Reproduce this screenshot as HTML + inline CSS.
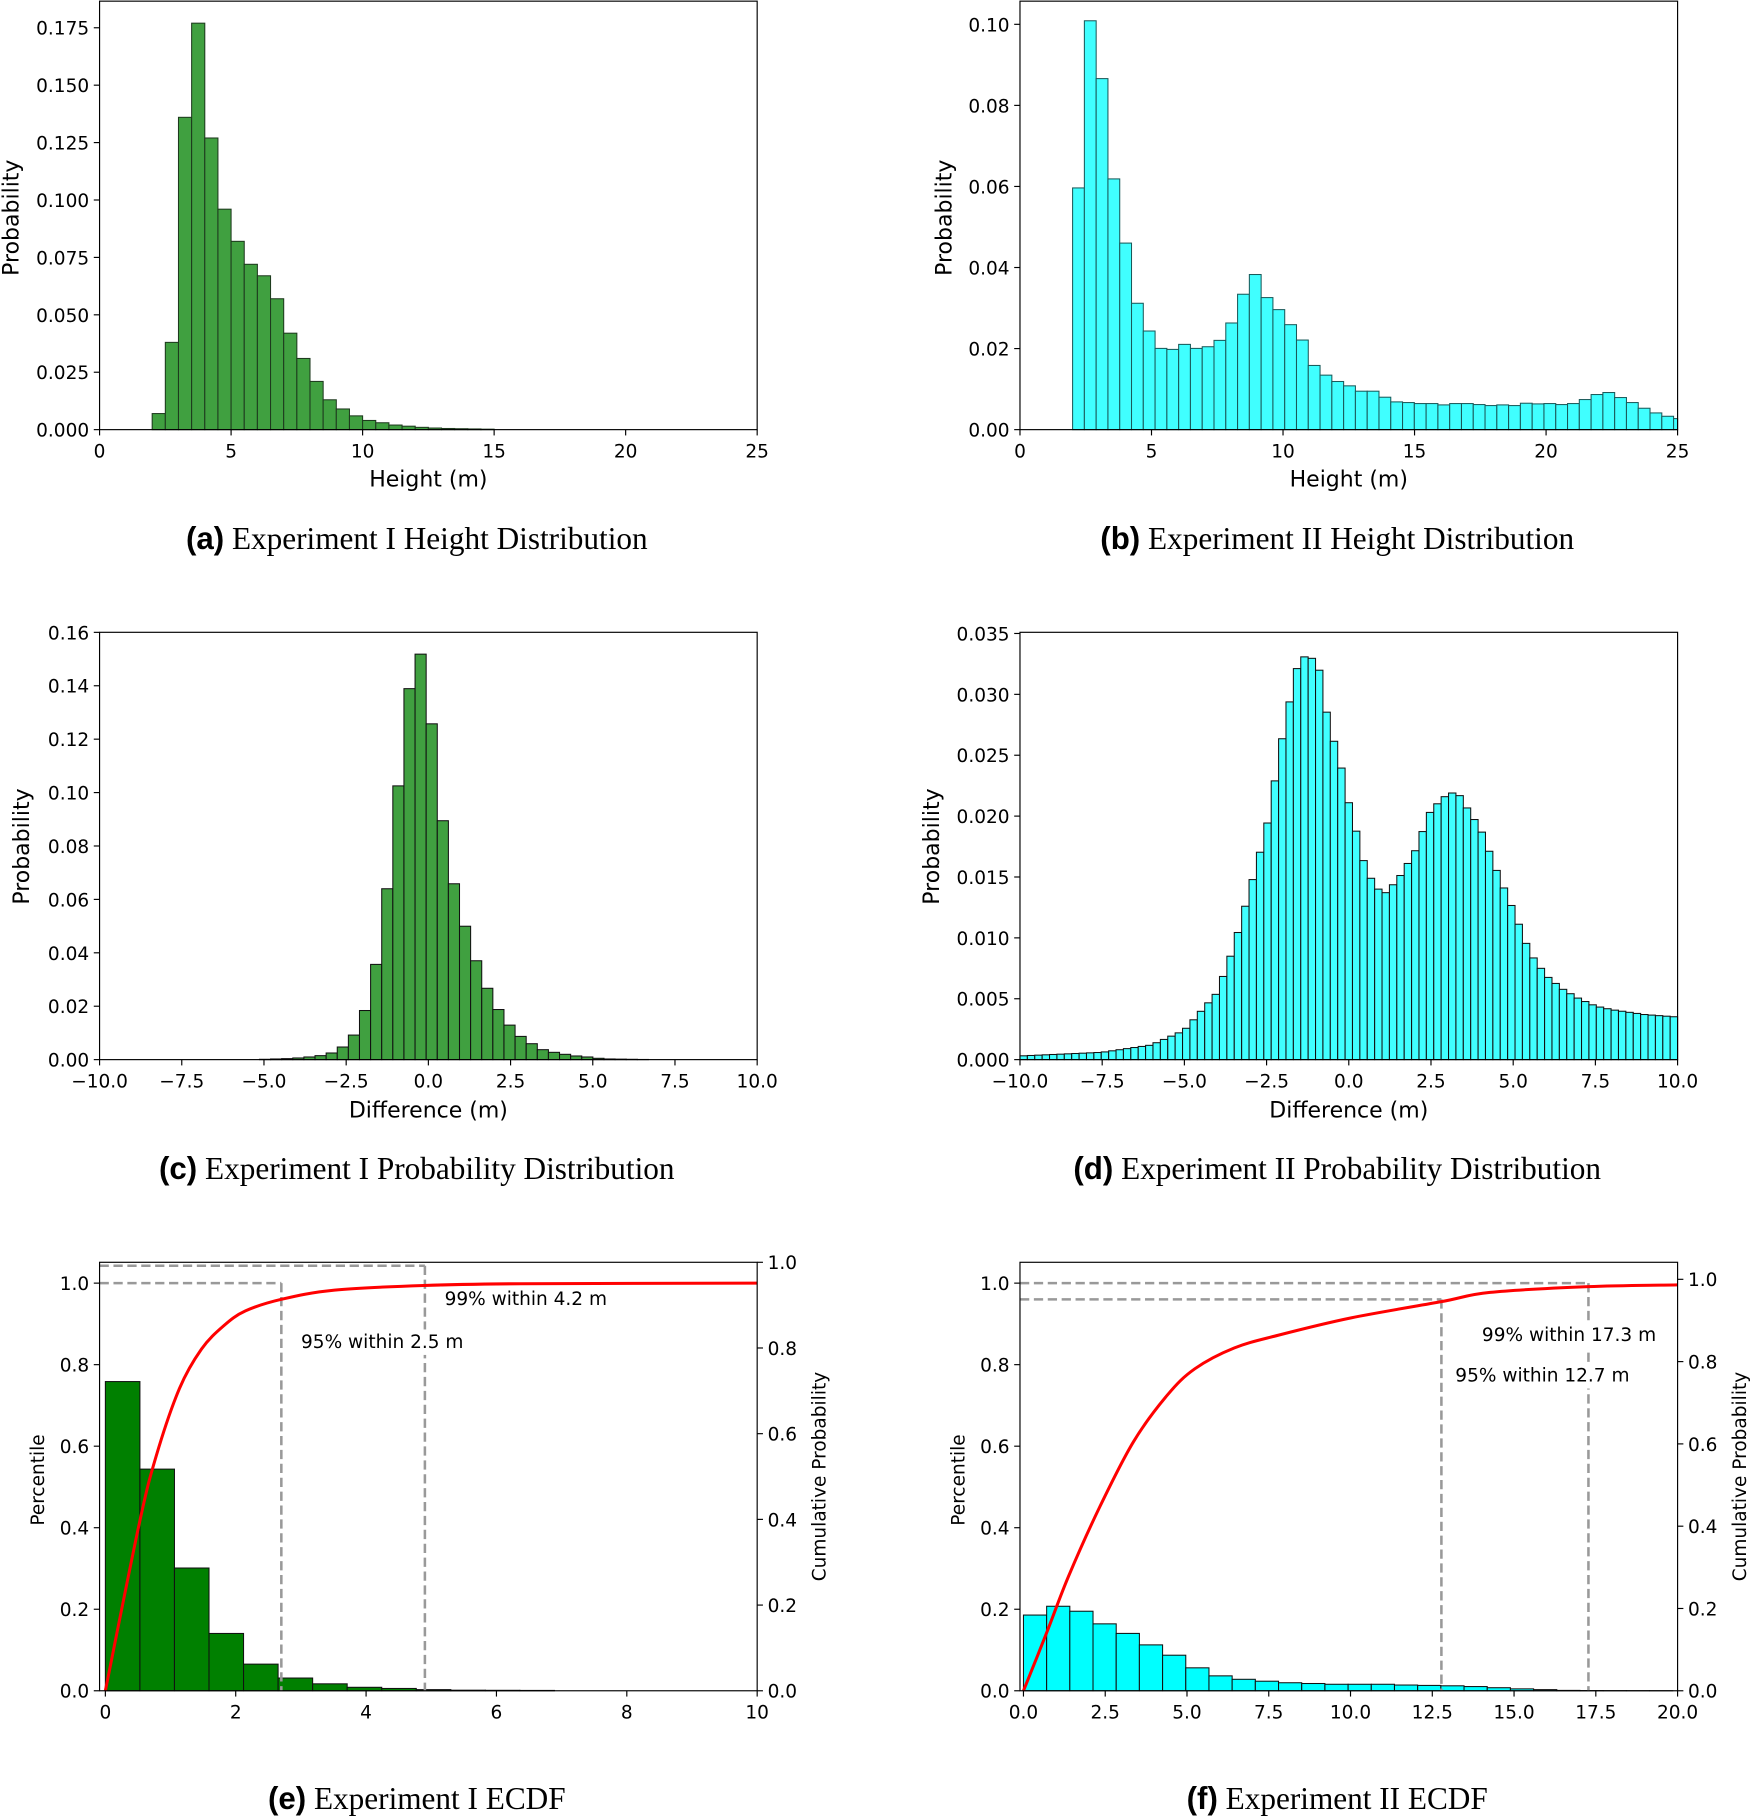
<!DOCTYPE html>
<html><head><meta charset="utf-8">
<style>
html,body{margin:0;padding:0;background:#fff;}
svg{display:block;}
text{font-family:"DejaVu Sans","Liberation Sans",sans-serif;fill:#000;}
.cap{font-family:"Liberation Serif",serif;font-size:27px;}
.capb{font-family:"Liberation Sans",sans-serif;font-weight:bold;}
</style></head>
<body>
<svg id="s" width="1754" height="1817" viewBox="0 0 1515 1569" preserveAspectRatio="none" xmlns="http://www.w3.org/2000/svg">
<text class="cap" x="360" y="474" text-anchor="middle"><tspan class="capb">(a)</tspan> Experiment I Height Distribution</text>
<text class="cap" x="1155" y="474" text-anchor="middle"><tspan class="capb">(b)</tspan> Experiment II Height Distribution</text>
<text class="cap" x="360" y="1018" text-anchor="middle"><tspan class="capb">(c)</tspan> Experiment I Probability Distribution</text>
<text class="cap" x="1155" y="1018" text-anchor="middle"><tspan class="capb">(d)</tspan> Experiment II Probability Distribution</text>
<text class="cap" x="360" y="1562" text-anchor="middle"><tspan class="capb">(e)</tspan> Experiment I ECDF</text>
<text class="cap" x="1155" y="1562" text-anchor="middle"><tspan class="capb">(f)</tspan> Experiment II ECDF</text>
</svg>
<script>
var S=document.getElementById('s'),NS='http://www.w3.org/2000/svg';
function el(t,a,txt){var e=document.createElementNS(NS,t);for(var k in a)e.setAttribute(k,a[k]);if(txt!==undefined)e.textContent=txt;S.appendChild(e);return e;}
function bars(x0,x1,y0,vals,start,w,xmin,xmax,ymax,fill,stroke){
  var sx=(x1-x0)/(xmax-xmin);
  for(var i=0;i<vals.length;i++){
    var a=start+i*w,b=a+w; if(a>=xmax)break; if(b>xmax)b=xmax; if(b<=xmin)continue; if(a<xmin)a=xmin;
    var px=x0+(a-xmin)*sx,pw=(b-a)*sx,h=vals[i]; if(h<=0)continue;
    el('rect',{x:px,y:y0-h,width:pw,height:h,fill:fill,stroke:stroke,'stroke-width':0.9});
  }
}
function frame(x0,x1,yt,yb){el('rect',{x:x0,y:yt,width:x1-x0,height:yb-yt,fill:'none',stroke:'#000','stroke-width':1});}
function xt(x,yb,lab){el('line',{x1:x,y1:yb,x2:x,y2:yb+5,stroke:'#000','stroke-width':1});el('text',{x:x,y:yb+24,'text-anchor':'middle','font-size':16},lab);}
function yt(x0,y,lab){el('line',{x1:x0-5,y1:y,x2:x0,y2:y,stroke:'#000','stroke-width':1});el('text',{x:x0-9,y:y+6,'text-anchor':'end','font-size':16},lab);}
function ytr(x1,y,lab){el('line',{x1:x1,y1:y,x2:x1+5,y2:y,stroke:'#000','stroke-width':1});el('text',{x:x1+9,y:y+6,'text-anchor':'start','font-size':16},lab);}
function ylab(x,y,lab,fs){el('text',{x:x,y:y,'text-anchor':'middle','font-size':fs||19,transform:'rotate(-90 '+x+' '+y+')'},lab);}
function xlab(x,y,lab){el('text',{x:x,y:y,'text-anchor':'middle','font-size':19},lab);}
function curve(pts,col,w){
  var d='M'+pts[0][0]+' '+pts[0][1];
  for(var i=0;i<pts.length-1;i++){
    var p0=pts[Math.max(0,i-1)],p1=pts[i],p2=pts[i+1],p3=pts[Math.min(pts.length-1,i+2)];
    var c1=[p1[0]+(p2[0]-p0[0])/6,p1[1]+(p2[1]-p0[1])/6],c2=[p2[0]-(p3[0]-p1[0])/6,p2[1]-(p3[1]-p1[1])/6];
    d+=' C'+c1[0]+' '+c1[1]+' '+c2[0]+' '+c2[1]+' '+p2[0]+' '+p2[1];
  }
  el('path',{d:d,fill:'none',stroke:col,'stroke-width':w});
}
function dl(x1,y1,x2,y2){el('line',{x1:x1,y1:y1,x2:x2,y2:y2,stroke:'#999','stroke-width':2.2,'stroke-dasharray':'8,4'});}
function lbl(x,y,t){var w=t.length*9.6+8;el('rect',{x:x-4,y:y-16,width:w,height:22,fill:'#fff'});el('text',{x:x,y:y,'font-size':16},t);}

/* (a) */
(function(){
 var v=[0.007,0.038,0.136,0.177,0.127,0.096,0.082,0.072,0.067,0.057,0.042,0.031,0.021,0.013,0.009,0.006,0.004,0.003,0.002,0.0015,0.001,0.0007,0.0005,0.0004,0.0003,0.0002];
 var h=v.map(function(q){return q*1983;});
 bars(86,654,371,h,2.0,0.5,0,25,0,'#40a040','#1e3a1e');
 frame(86,654,1,371);
 [0,5,10,15,20,25].forEach(function(t){xt(86+t*22.72,371,''+t);});
 ['0.000','0.025','0.050','0.075','0.100','0.125','0.150','0.175'].forEach(function(l,i){yt(86,371-i*0.025*1983,l);});
 ylab(16,188,'Probability');xlab(370,420,'Height (m)');
})();
/* (b) */
(function(){
 var tops=[565,65,238,538,730,910,993,1045,1048,1033,1045,1040,1021,969,883,824,893,929,974,1020,1096,1125,1144,1157,1173,1173,1191,1205,1207,1210,1210,1214,1210,1210,1213,1216,1214,1216,1209,1211,1210,1213,1210,1198,1183,1177,1192,1207,1224,1238,1248,1255];
 var h=tops.map(function(t){return (1288-t)/12124*3500;});
 bars(881,1449,371,h,2.0,0.448,0,25,0,'#40ffff','#1a5a5a');
 frame(881,1449,1,371);
 [0,5,10,15,20,25].forEach(function(t){xt(881+t*22.72,371,''+t);});
 ['0.00','0.02','0.04','0.06','0.08','0.10'].forEach(function(l,i){yt(881,371-i*0.02*3500,l);});
 ylab(822,188,'Probability');xlab(1165,420,'Height (m)');
})();
/* (c) */
(function(){
 var tops=[1260,1260,1260,1259,1258,1257,1255,1252,1248,1240,1222,1186,1112,973,745,435,142,38,248,540,730,858,962,1045,1109,1156,1190,1212,1230,1238,1244,1249,1252,1256,1258,1258.5,1259,1259.5];
 var w=0.338,start=-0.405-17*w;
 var h=tops.map(function(t){return Math.max(0,(1260-t)/8048*2306);});
 bars(86,654,915,h,start,w,-10,10,0,'#40a040','#111');
 frame(86,654,546,915);
 [-10,-7.5,-5,-2.5,0,2.5,5,7.5,10].forEach(function(t){xt(86+(t+10)*28.4,915,(t<0?'\u2212':'')+Math.abs(t).toFixed(1));});
 ['0.00','0.02','0.04','0.06','0.08','0.10','0.12','0.14','0.16'].forEach(function(l,i){yt(86,915-i*0.02*2306,l);});
 ylab(25,731,'Probability');xlab(370,965,'Difference (m)');
})();
/* (d) */
(function(){
 var cp=[[-10,0.0003],[-7.5,0.0006],[-6,0.0012],[-5,0.0024],[-4,0.0055],[-3.5,0.0092],[-3,0.014],[-2.5,0.019],[-2,0.0267],[-1.6,0.032],[-1.25,0.0335],[-0.9,0.032],[-0.6,0.0274],[-0.3,0.0249],[0,0.0211],[0.25,0.0185],[0.5,0.0158],[0.75,0.0145],[1.05,0.0135],[1.5,0.0148],[2.0,0.017],[2.5,0.0205],[3.0,0.0218],[3.3,0.022],[3.7,0.0202],[4.0,0.019],[4.5,0.0155],[5.0,0.0123],[5.5,0.0088],[6,0.0069],[6.5,0.0058],[7,0.005],[7.5,0.0044],[8,0.0041],[9,0.0037],[10,0.0035]];
 function f(x){for(var i=0;i<cp.length-1;i++){if(x<=cp[i+1][0]){var t=(x-cp[i][0])/(cp[i+1][0]-cp[i][0]);return cp[i][1]+t*(cp[i+1][1]-cp[i][1]);}}return cp[cp.length-1][1];}
 var n=89,w=20/n,h=[];for(var i=0;i<n;i++)h.push(f(-10+(i+0.5)*w)*10514);
 bars(881,1449,915,h,-10,w,-10,10,0,'#40ffff','#111');
 frame(881,1449,546,915);
 [-10,-7.5,-5,-2.5,0,2.5,5,7.5,10].forEach(function(t){xt(881+(t+10)*28.4,915,(t<0?'\u2212':'')+Math.abs(t).toFixed(1));});
 ['0.000','0.005','0.010','0.015','0.020','0.025','0.030','0.035'].forEach(function(l,i){yt(881,915-i*0.005*10514,l);});
 ylab(811,731,'Probability');xlab(1165,965,'Difference (m)');
})();
/* (e) */
(function(){
 var tops=[1193,1268.6,1354,1410.5,1437,1449,1454,1457,1458,1459,1459.5,1459.6,1459.7];
 var h=tops.map(function(t){return 1460-t;});
 bars(86,654,1460,h,0,0.53,-0.089,10,0,'#008000','#111');
 dl(86,1093,367,1093);dl(367,1093,367,1460);dl(86,1108,243,1108);dl(243,1108,243,1460);
 curve([[91,1460],[120,1317],[135,1257],[155,1199],[174,1165],[193,1145],[212,1132],[243,1122],[289,1114],[366,1110],[450,1108.5],[654,1108]],'#ff0000',2.6);
 frame(86,654,1090,1460);
 [0,2,4,6,8,10].forEach(function(t){xt(91+t*56.3,1460,''+t);});
 ['0.0','0.2','0.4','0.6','0.8','1.0'].forEach(function(l,i){yt(86,1460-i*0.2*352,l);});
 ['0.0','0.2','0.4','0.6','0.8','1.0'].forEach(function(l,i){ytr(654,1460-i*74,l);});
 lbl(260,1164,'95% within 2.5 m');
 lbl(384,1127,'99% within 4.2 m');
 ylab(38,1278,'Percentile',16);ylab(713,1275,'Cumulative Probability',16);
})();
/* (f) */
(function(){
 var zt=[1043,1020,1033,1066,1091,1121,1148,1181,1202,1211,1216,1220,1222,1224,1224,1224,1226,1227,1228,1230,1233,1236,1238,1240,1240.5,1240.7,1240.8,1240.9];
 var h=zt.map(function(t){return (1241-t)*0.3302;});
 bars(881,1449,1460,h,0,0.709,-0.106,20,0,'#00ffff','#111');
 dl(881,1108,1372,1108);dl(1372,1108,1372,1460);dl(881,1122,1245,1122);dl(1245,1122,1245,1460);
 curve([[884,1460],[904,1410],[923,1361],[950,1301],[979,1245],[1008,1205],[1032,1182],[1066,1164],[1104,1153],[1167,1138],[1245,1124],[1287,1116],[1372,1111],[1449,1109.5]],'#ff0000',2.6);
 frame(881,1449,1090,1460);
 [0,2.5,5,7.5,10,12.5,15,17.5,20].forEach(function(t){xt(884+t*28.25,1460,t.toFixed(1));});
 ['0.0','0.2','0.4','0.6','0.8','1.0'].forEach(function(l,i){yt(881,1460-i*0.2*352,l);});
 ['0.0','0.2','0.4','0.6','0.8','1.0'].forEach(function(l,i){ytr(1449,1460-i*71.06,l);});
 lbl(1280,1158,'99% within 17.3 m');
 lbl(1257,1193,'95% within 12.7 m');
 ylab(833,1278,'Percentile',16);ylab(1508,1275,'Cumulative Probability',16);
})();
</script>
</body></html>
